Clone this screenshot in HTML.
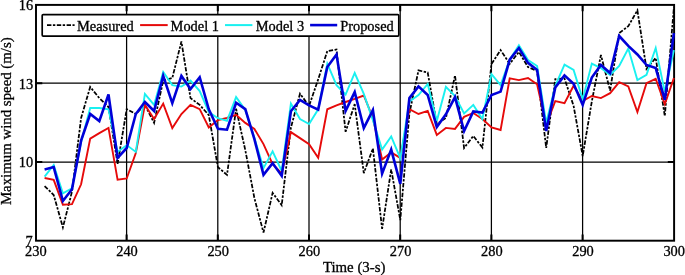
<!DOCTYPE html>
<html lang="en"><head><meta charset="utf-8"><title>Maximum wind speed</title>
<style>html,body{margin:0;padding:0;background:#fff}body{width:685px;height:275px;overflow:hidden}svg{display:block}text{font-family:"Liberation Serif","Times New Roman",serif;font-size:14.4px;fill:#000;stroke:#000;stroke-width:0.3px}</style></head><body>
<svg width="685" height="275" viewBox="0 0 685 275">
<rect width="685" height="275" fill="#fff"/>
<path d="M126.6 4.9V240.8M217.8 4.9V240.8M309.0 4.9V240.8M400.2 4.9V240.8M491.4 4.9V240.8M582.6 4.9V240.8M36.0 83.2H674.1M36.0 162.0H674.1" stroke="#000" stroke-width="1.25" fill="none"/>
<path d="M126.6 240.8v-6.3M126.6 4.9v6.3M217.8 240.8v-6.3M217.8 4.9v6.3M309.0 240.8v-6.3M309.0 4.9v6.3M400.2 240.8v-6.3M400.2 4.9v6.3M491.4 240.8v-6.3M491.4 4.9v6.3M582.6 240.8v-6.3M582.6 4.9v6.3M36.0 83.2h6.3M674.1 83.2h-6.3M36.0 162.0h6.3M674.1 162.0h-6.3" stroke="#000" stroke-width="2" fill="none"/>
<rect x="36.0" y="4.9" width="638.1" height="235.8" fill="none" stroke="#000" stroke-width="1.95"/>
<polyline points="44.6,186.1 53.7,195.0 62.9,227.4 72.0,191.6 81.1,118.0 90.2,86.9 99.3,98.1 108.5,107.0 117.6,163.9 126.7,109.1 135.8,114.0 144.9,104.9 154.1,122.9 163.2,80.6 172.3,78.0 181.4,41.5 190.5,98.1 199.7,104.9 208.8,115.1 217.9,167.1 227.0,174.9 236.1,108.8 245.3,150.1 254.4,198.1 263.5,232.6 272.6,192.9 281.7,205.2 290.9,127.6 300.0,93.7 309.1,105.9 318.2,79.3 327.3,51.1 336.5,49.6 345.6,131.8 354.7,104.1 363.8,173.1 372.9,148.5 382.1,228.9 391.2,169.4 400.3,220.1 409.4,113.3 418.5,70.4 427.7,72.5 436.8,124.0 445.9,118.0 455.0,75.4 464.1,148.0 473.3,136.0 482.4,147.5 491.5,63.9 500.6,50.1 509.7,63.9 518.9,51.9 528.0,67.0 537.1,71.0 546.2,148.0 555.3,79.1 564.5,78.5 573.6,105.9 582.7,156.1 591.8,101.5 600.9,55.0 610.1,90.5 619.2,33.1 628.3,26.1 637.4,10.4 646.5,68.9 655.7,57.9 664.8,116.1 673.9,7.5" fill="none" stroke="#000" stroke-width="1.75" stroke-dasharray="4.4 1.5 2.4 1.5" stroke-linejoin="miter"/>
<polyline points="44.6,178.0 53.7,179.8 62.9,204.7 72.0,204.1 81.1,184.3 90.2,138.6 99.3,133.1 108.5,127.9 117.6,179.8 126.7,178.5 135.8,153.0 144.9,104.9 154.1,119.0 163.2,103.6 172.3,128.1 181.4,114.0 190.5,104.9 199.7,109.1 208.8,127.4 217.9,120.1 227.0,118.0 236.1,114.8 245.3,122.9 254.4,128.9 263.5,144.1 272.6,164.2 281.7,173.3 290.9,132.1 300.0,138.1 309.1,144.1 318.2,157.7 327.3,109.3 336.5,105.4 345.6,102.0 354.7,98.9 363.8,95.5 372.9,118.0 382.1,159.5 391.2,152.4 400.3,157.9 409.4,109.1 418.5,114.0 427.7,110.9 436.8,134.9 445.9,127.9 455.0,128.9 464.1,116.9 473.3,113.0 482.4,119.0 491.5,127.4 500.6,130.0 509.7,78.3 518.9,80.1 528.0,78.0 537.1,84.3 546.2,125.0 555.3,101.0 564.5,103.1 573.6,85.8 582.7,101.0 591.8,96.0 600.9,98.1 610.1,93.2 619.2,82.2 628.3,86.4 637.4,112.0 646.5,83.2 655.7,78.8 664.8,104.1 673.9,78.0" fill="none" stroke="#e60a0a" stroke-width="1.9" stroke-linejoin="miter"/>
<polyline points="44.6,176.7 53.7,165.0 62.9,193.4 72.0,188.2 81.1,142.0 90.2,108.0 99.3,108.0 108.5,109.3 117.6,151.9 126.7,145.1 135.8,151.9 144.9,93.9 154.1,104.9 163.2,72.0 172.3,85.1 181.4,86.6 190.5,80.6 199.7,91.1 208.8,112.0 217.9,118.2 227.0,120.8 236.1,97.1 245.3,109.9 254.4,138.1 263.5,168.1 272.6,151.4 281.7,171.0 290.9,103.6 300.0,119.0 309.1,124.0 318.2,109.3 327.3,63.6 336.5,85.1 345.6,94.5 354.7,73.0 363.8,93.9 372.9,120.1 382.1,149.6 391.2,136.5 400.3,158.2 409.4,101.5 418.5,95.0 427.7,84.0 436.8,121.1 445.9,86.9 455.0,96.0 464.1,113.5 473.3,104.9 482.4,119.0 491.5,74.1 500.6,85.1 509.7,59.7 518.9,45.4 528.0,60.0 537.1,66.0 546.2,122.9 555.3,85.8 564.5,64.7 573.6,69.9 582.7,99.4 591.8,63.6 600.9,68.1 610.1,74.9 619.2,66.0 628.3,48.5 637.4,80.1 646.5,74.9 655.7,48.0 664.8,92.1 673.9,50.1" fill="none" stroke="#19f0f0" stroke-width="1.9" stroke-linejoin="miter"/>
<polyline points="44.6,169.4 53.7,167.1 62.9,201.0 72.0,189.2 81.1,140.7 90.2,114.0 99.3,121.1 108.5,94.5 117.6,157.9 126.7,148.0 135.8,114.0 144.9,102.0 154.1,110.9 163.2,75.9 172.3,103.1 181.4,75.9 190.5,89.0 199.7,77.2 208.8,109.3 217.9,128.7 227.0,129.7 236.1,102.8 245.3,109.1 254.4,139.1 263.5,174.9 272.6,163.1 281.7,175.9 290.9,111.2 300.0,99.9 309.1,105.4 318.2,109.6 327.3,67.0 336.5,54.5 345.6,110.9 354.7,92.1 363.8,128.1 372.9,110.1 382.1,173.6 391.2,149.6 400.3,183.8 409.4,98.1 418.5,86.4 427.7,95.0 436.8,127.1 445.9,114.3 455.0,97.1 464.1,131.0 473.3,111.4 482.4,112.5 491.5,95.0 500.6,91.6 509.7,59.7 518.9,48.0 528.0,62.9 537.1,69.9 546.2,131.0 555.3,87.4 564.5,75.4 573.6,83.8 582.7,104.9 591.8,77.5 600.9,65.0 610.1,73.0 619.2,36.0 628.3,45.9 637.4,54.5 646.5,65.0 655.7,68.1 664.8,99.9 673.9,33.1" fill="none" stroke="#0000d8" stroke-width="2.6" stroke-linejoin="miter"/>
<rect x="42.2" y="14.6" width="356.6" height="21.5" rx="1" fill="#fff" stroke="#000" stroke-width="1.7"/>
<path d="M47 25.1H74.6" stroke="#000" stroke-width="1.75" stroke-dasharray="4.4 1.5 2.4 1.5" fill="none"/>
<path d="M140.1 25.1H167.7" stroke="#e60a0a" stroke-width="2" fill="none"/>
<path d="M225 25.1H252.4" stroke="#19f0f0" stroke-width="2" fill="none"/>
<path d="M310.1 25.1H337.2" stroke="#0000d8" stroke-width="2.6" fill="none"/>
<g style="font-size:14.5px">
<text x="77" y="30.6">Measured</text>
<text x="170.6" y="30.6">Model 1</text>
<text x="255.8" y="30.6">Model 3</text>
<text x="340.2" y="30.6">Proposed</text>
</g>
<text x="33.1" y="9.9" text-anchor="end">16</text>
<text x="33.1" y="88.6" text-anchor="end">13</text>
<text x="33.1" y="167.4" text-anchor="end">10</text>
<text x="32.6" y="245.7" text-anchor="end">7</text>
<text x="35.8" y="256" text-anchor="middle">230</text>
<text x="127.0" y="256" text-anchor="middle">240</text>
<text x="218.2" y="256" text-anchor="middle">250</text>
<text x="309.4" y="256" text-anchor="middle">260</text>
<text x="400.6" y="256" text-anchor="middle">270</text>
<text x="491.8" y="256" text-anchor="middle">280</text>
<text x="583.0" y="256" text-anchor="middle">290</text>
<text x="674.2" y="256" text-anchor="middle">300</text>
<text x="354.15" y="271.8" text-anchor="middle" style="font-size:14.85px">Time (3-s)</text>
<text transform="translate(10.5 121.2) rotate(-90)" text-anchor="middle" style="font-size:14.85px">Maximum wind speed (m/s)</text>
</svg></body></html>
